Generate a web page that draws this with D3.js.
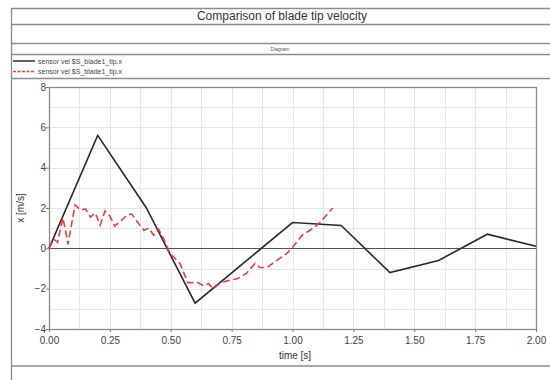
<!DOCTYPE html>
<html>
<head>
<meta charset="utf-8">
<script src="https://d3js.org/d3.v7.min.js"></script>
<style>
  body { margin: 0; background: #fff; }
  text { font-family: "Liberation Sans", Arial, sans-serif; }
</style>
</head>
<body>
<div id="chart"></div>
<script>
// data
const solidTime = [0, 0.2, 0.4, 0.6, 1.0, 1.2, 1.4, 1.6, 1.8, 2.0];
const solidVel = [0, 5.6, 2.0, -2.72, 1.28, 1.13, -1.2, -0.6, 0.7, 0.1];

const dashTime = [0, 0.02, 0.035, 0.057, 0.066, 0.078, 0.107, 0.13, 0.15, 0.17, 0.19, 0.21, 0.23, 0.25, 0.27, 0.29,
  0.32, 0.34, 0.37, 0.39, 0.41, 0.43, 0.45, 0.47, 0.497, 0.538, 0.57, 0.61, 0.635, 0.655, 0.675, 0.70, 0.735,
  0.775, 0.81, 0.846, 0.866, 0.895, 0.936, 0.977, 1.0, 1.04, 1.085, 1.11, 1.14, 1.165];
const dashVel = [0, 0.45, 0.3, 1.5, 1.0, 0.2, 2.15, 1.9, 1.95, 1.55, 1.75, 1.15, 1.85, 1.6, 1.1, 1.3,
  1.65, 1.7, 1.2, 0.9, 1.0, 0.65, 0.95, 0.5, -0.25, -0.75, -1.7, -1.7, -1.85, -1.75, -2.0, -1.75, -1.6,
  -1.5, -1.25, -0.75, -0.95, -0.95, -0.6, -0.25, 0.05, 0.65, 1.0, 1.25, 1.65, 2.0];

const xTicks = [0, 0.25, 0.5, 0.75, 1.0, 1.25, 1.5, 1.75, 2.0];
const yTicks = [-4, -2, 0, 2, 4, 6, 8];
const legendLabels = ["sensor vel $S_blade1_tip.x", "sensor vel $S_blade1_tip.x"];

const W = 550, H = 380;
const plot = { left: 49, right: 536, top: 87, bottom: 329 };
const frameColor = "#8c8c8c";
const red = "#ea3d42";

const svg = d3.select("#chart").append("svg")
  .attr("width", W)
  .attr("height", H);

// outer frame with rows
const frame = svg.append("g").attr("stroke", frameColor).attr("stroke-width", 1.3).attr("fill", "none");
frame.append("line").attr("x1", 11.5).attr("x2", 11.5).attr("y1", 8).attr("y2", H);
[8.5, 24.5, 43.5, 54.5, 78.5, 366].forEach(y => {
  frame.append("line").attr("x1", 11.5).attr("x2", W).attr("y1", y).attr("y2", y);
});

svg.append("text")
  .attr("x", 282).attr("y", 20)
  .attr("text-anchor", "middle")
  .style("font-size", "12px")
  .attr("fill", "#333")
  .text("Comparison of blade tip velocity");

svg.append("text")
  .attr("x", 280).attr("y", 51)
  .attr("text-anchor", "middle")
  .style("font-size", "5px")
  .attr("fill", "#555")
  .text("Diagram");

// legend
const legend = svg.append("g");
legendLabels.forEach((label, i) => {
  const y = 61 + i * 10.5;
  legend.append("line")
    .attr("x1", 13).attr("x2", 35).attr("y1", y).attr("y2", y)
    .attr("stroke", i === 0 ? "#222" : red)
    .attr("stroke-width", 1.4)
    .attr("stroke-dasharray", i === 0 ? null : "3,1.5");
  legend.append("text")
    .attr("x", 38).attr("y", y + 2.5)
    .style("font-size", "7px")
    .attr("fill", "#444")
    .text(label);
});

// scales
const x = d3.scaleLinear().domain([0, 2]).range([plot.left, plot.right]);
const y = d3.scaleLinear().domain([-4, 8]).range([plot.bottom, plot.top]);

// grid
const grid = svg.append("g").attr("stroke", "#e6e6e6").attr("stroke-width", 1);
d3.range(1, 16).map(i => i * 0.125).forEach(t => {
  grid.append("line")
    .attr("x1", Math.round(x(t)) + 0.5).attr("x2", Math.round(x(t)) + 0.5)
    .attr("y1", plot.top).attr("y2", plot.bottom);
});
d3.range(-3, 8).forEach(v => {
  grid.append("line")
    .attr("x1", plot.left).attr("x2", plot.right)
    .attr("y1", Math.round(y(v)) + 0.5).attr("y2", Math.round(y(v)) + 0.5);
});

// zero line
svg.append("line")
  .attr("x1", plot.left).attr("x2", plot.right)
  .attr("y1", Math.round(y(0)) + 0.5).attr("y2", Math.round(y(0)) + 0.5)
  .attr("stroke", "#555").attr("stroke-width", 1);

// axes
const xAxis = svg.append("g")
  .attr("transform", `translate(0,${plot.bottom})`)
  .call(d3.axisBottom(x).tickValues(xTicks).tickFormat(d3.format(".2f")).tickSize(3).tickSizeOuter(0));
const yAxis = svg.append("g")
  .attr("transform", `translate(${plot.left},0)`)
  .call(d3.axisLeft(y).tickValues(yTicks).tickSize(3).tickSizeOuter(0));
[xAxis, yAxis].forEach(ax => {
  ax.select(".domain").remove();
  ax.selectAll("line").attr("stroke", "#777");
  ax.selectAll("text").attr("fill", "#444").style("font-size", "10px");
});
xAxis.selectAll("text").attr("dy", "0.9em");
yAxis.selectAll("text").attr("x", -3);

// plot border
svg.append("rect")
  .attr("x", plot.left + 0.5).attr("y", plot.top + 0.5)
  .attr("width", plot.right - plot.left).attr("height", plot.bottom - plot.top)
  .attr("fill", "none").attr("stroke", "#8a8a8a").attr("stroke-width", 1.3);

// axis titles
svg.append("text")
  .attr("transform", `translate(24,${(plot.top + plot.bottom) / 2}) rotate(-90)`)
  .attr("text-anchor", "middle")
  .style("font-size", "10px")
  .attr("fill", "#333")
  .text("x [m/s]");
svg.append("text")
  .attr("x", 295).attr("y", 359)
  .attr("text-anchor", "middle")
  .style("font-size", "10px")
  .attr("fill", "#333")
  .text("time [s]");

// series
const line = d3.line().x(d => x(d[0])).y(d => y(d[1]));
svg.append("path")
  .datum(d3.zip(solidTime, solidVel))
  .attr("fill", "none")
  .attr("stroke", "#2a2a2a")
  .attr("stroke-width", 1.6)
  .attr("d", line);
svg.append("path")
  .datum(d3.zip(dashTime, dashVel))
  .attr("fill", "none")
  .attr("stroke", red)
  .attr("stroke-width", 1.6)
  .attr("stroke-dasharray", "7,3.5")
  .attr("d", line);
</script>
</body>
</html>
